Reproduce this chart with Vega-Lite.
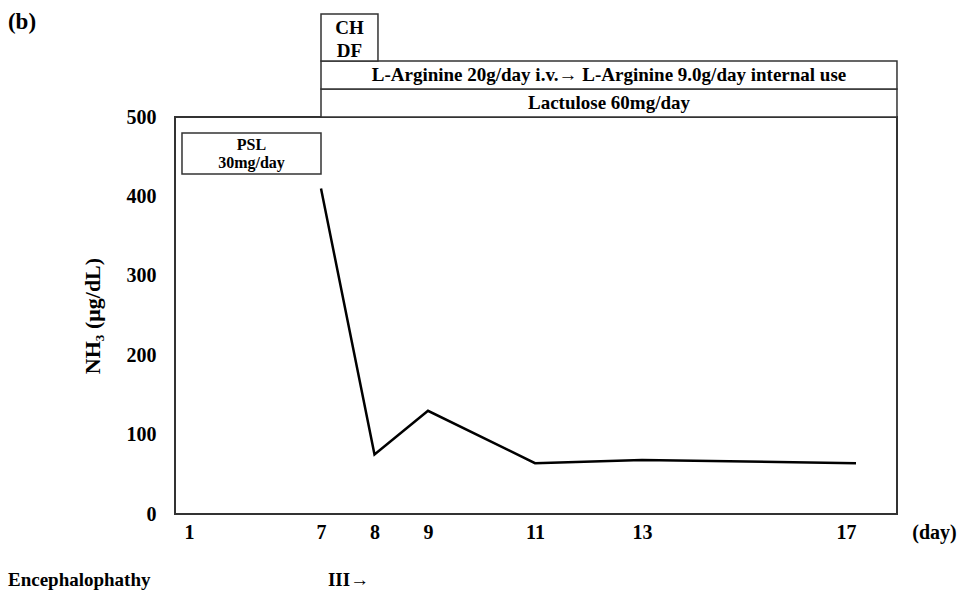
{
  "$schema": "https://vega.github.io/schema/vega-lite/v6.json",
  "width": 722,
  "height": 397,
  "autosize": {"type": "none"},
  "padding": {"left": 175, "top": 117, "right": 63, "bottom": 80},
  "background": "white",
  "datasets": {
    "nh3": [
      {"day": 7, "nh3": 410},
      {"day": 8, "nh3": 75},
      {"day": 9, "nh3": 130},
      {"day": 11, "nh3": 64},
      {"day": 13, "nh3": 68},
      {"day": 17, "nh3": 64}
    ],
    "boxes": [
      {"group": "psl", "lines": ["PSL", "30mg/day"], "day": 0.912, "day_end": 7, "nh3": 428.2, "nh3_top": 479.8},
      {"group": "top", "lines": ["Lactulose 60mg/day"], "day": 7, "day_end": 17.766, "nh3": 500, "nh3_top": 535.3},
      {"group": "top", "lines": ["L-Arginine 20g/day i.v.→ L-Arginine 9.0g/day internal use"], "day": 7, "day_end": 17.766, "nh3": 535.3, "nh3_top": 570.5},
      {"group": "top", "lines": ["CH", "DF"], "day": 7, "day_end": 8.065, "nh3": 570.5, "nh3_top": 629.7}
    ],
    "notes": [
      {"text": "(b)", "day": -6.71, "nh3": 619.6, "kind": "panel"},
      {"text": "Encephalophathy", "day": -6.71, "nh3": -83, "kind": "row"},
      {"text": "III→", "day": 7.13, "nh3": -83, "kind": "row"}
    ]
  },
  "encoding": {
    "x": {
      "field": "day", "type": "quantitative",
      "scale": {"domain": [1, 7, 17], "range": [9, 146, 681], "nice": false, "zero": false},
      "axis": {"values": [1, 7, 8, 9, 11, 13, 17], "title": "(day)", "titleX": 759, "titleY": 18, "titleAlign": "center", "titleBaseline": "middle", "titleFontSize": 20, "labelPadding": 18, "labelBaseline": "middle"}
    },
    "y": {
      "field": "nh3", "type": "quantitative",
      "scale": {"domain": [0, 500], "nice": false, "zero": true},
      "axis": {"values": [0, 100, 200, 300, 400, 500], "title": "NH₃ (μg/dL)", "titleFontSize": 22, "titlePadding": 22, "labelPadding": 19}
    }
  },
  "layer": [
    {
      "data": {"name": "boxes"},
      "mark": {"type": "rect", "fill": "white", "stroke": "#333", "strokeWidth": 1.5},
      "encoding": {
        "x2": {"field": "day_end"},
        "y2": {"field": "nh3_top"}
      }
    },
    {
      "data": {"name": "boxes"},
      "transform": [
        {"filter": "datum.group == 'top' && length(datum.lines) == 1"},
        {"calculate": "(datum.day + datum.day_end) / 2", "as": "cx"},
        {"calculate": "(datum.nh3 + datum.nh3_top) / 2", "as": "cy"}
      ],
      "mark": {"type": "text", "fontSize": 19, "align": "center", "baseline": "middle"},
      "encoding": {
        "x": {
          "field": "cx", "type": "quantitative",
          "scale": {"domain": [1, 7, 17], "range": [9, 146, 681], "nice": false, "zero": false},
          "axis": {"values": [1, 7, 8, 9, 11, 13, 17], "title": "(day)", "titleX": 759, "titleY": 18, "titleAlign": "center", "titleBaseline": "middle", "titleFontSize": 20, "labelPadding": 18, "labelBaseline": "middle"}
        },
        "y": {
          "field": "cy", "type": "quantitative",
          "scale": {"domain": [0, 500], "nice": false, "zero": true},
          "axis": {"values": [0, 100, 200, 300, 400, 500], "title": "NH₃ (μg/dL)", "titleFontSize": 22, "titlePadding": 22, "labelPadding": 19}
        },
        "text": {"field": "lines", "type": "nominal"}
      }
    },
    {
      "data": {"name": "boxes"},
      "transform": [
        {"filter": "datum.group == 'top' && length(datum.lines) > 1"},
        {"calculate": "(datum.day + datum.day_end) / 2", "as": "cx"},
        {"calculate": "(datum.nh3 + datum.nh3_top) / 2", "as": "cy"}
      ],
      "mark": {"type": "text", "fontSize": 19, "lineHeight": 23, "align": "center", "baseline": "middle", "dy": -10},
      "encoding": {
        "x": {
          "field": "cx", "type": "quantitative",
          "scale": {"domain": [1, 7, 17], "range": [9, 146, 681], "nice": false, "zero": false},
          "axis": {"values": [1, 7, 8, 9, 11, 13, 17], "title": "(day)", "titleX": 759, "titleY": 18, "titleAlign": "center", "titleBaseline": "middle", "titleFontSize": 20, "labelPadding": 18, "labelBaseline": "middle"}
        },
        "y": {
          "field": "cy", "type": "quantitative",
          "scale": {"domain": [0, 500], "nice": false, "zero": true},
          "axis": {"values": [0, 100, 200, 300, 400, 500], "title": "NH₃ (μg/dL)", "titleFontSize": 22, "titlePadding": 22, "labelPadding": 19}
        },
        "text": {"field": "lines", "type": "nominal"}
      }
    },
    {
      "data": {"name": "boxes"},
      "transform": [
        {"filter": "datum.group == 'psl'"},
        {"calculate": "(datum.day + datum.day_end) / 2", "as": "cx"},
        {"calculate": "(datum.nh3 + datum.nh3_top) / 2", "as": "cy"}
      ],
      "mark": {"type": "text", "fontSize": 16, "lineHeight": 18, "align": "center", "baseline": "middle", "dy": -9},
      "encoding": {
        "x": {
          "field": "cx", "type": "quantitative",
          "scale": {"domain": [1, 7, 17], "range": [9, 146, 681], "nice": false, "zero": false},
          "axis": {"values": [1, 7, 8, 9, 11, 13, 17], "title": "(day)", "titleX": 759, "titleY": 18, "titleAlign": "center", "titleBaseline": "middle", "titleFontSize": 20, "labelPadding": 18, "labelBaseline": "middle"}
        },
        "y": {
          "field": "cy", "type": "quantitative",
          "scale": {"domain": [0, 500], "nice": false, "zero": true},
          "axis": {"values": [0, 100, 200, 300, 400, 500], "title": "NH₃ (μg/dL)", "titleFontSize": 22, "titlePadding": 22, "labelPadding": 19}
        },
        "text": {"field": "lines", "type": "nominal"}
      }
    },
    {
      "data": {"name": "nh3"},
      "mark": {"type": "line", "color": "black", "strokeWidth": 2.5}
    },
    {
      "data": {"name": "notes"},
      "transform": [{"filter": "datum.kind == 'panel'"}],
      "mark": {"type": "text", "fontSize": 23, "align": "left", "baseline": "middle"},
      "encoding": {"text": {"field": "text", "type": "nominal"}}
    },
    {
      "data": {"name": "notes"},
      "transform": [{"filter": "datum.kind == 'row'"}],
      "mark": {"type": "text", "fontSize": 19, "align": "left", "baseline": "middle"},
      "encoding": {"text": {"field": "text", "type": "nominal"}}
    }
  ],
  "config": {
    "view": {"stroke": "#333", "strokeWidth": 2},
    "text": {"font": "Liberation Serif", "fontWeight": "bold", "color": "black"},
    "axis": {
      "labelFont": "Liberation Serif", "labelFontWeight": "bold", "labelFontSize": 20, "labelColor": "black",
      "titleFont": "Liberation Serif", "titleFontWeight": "bold", "titleColor": "black",
      "ticks": false, "tickSize": 0, "domain": false, "grid": false
    }
  }
}
